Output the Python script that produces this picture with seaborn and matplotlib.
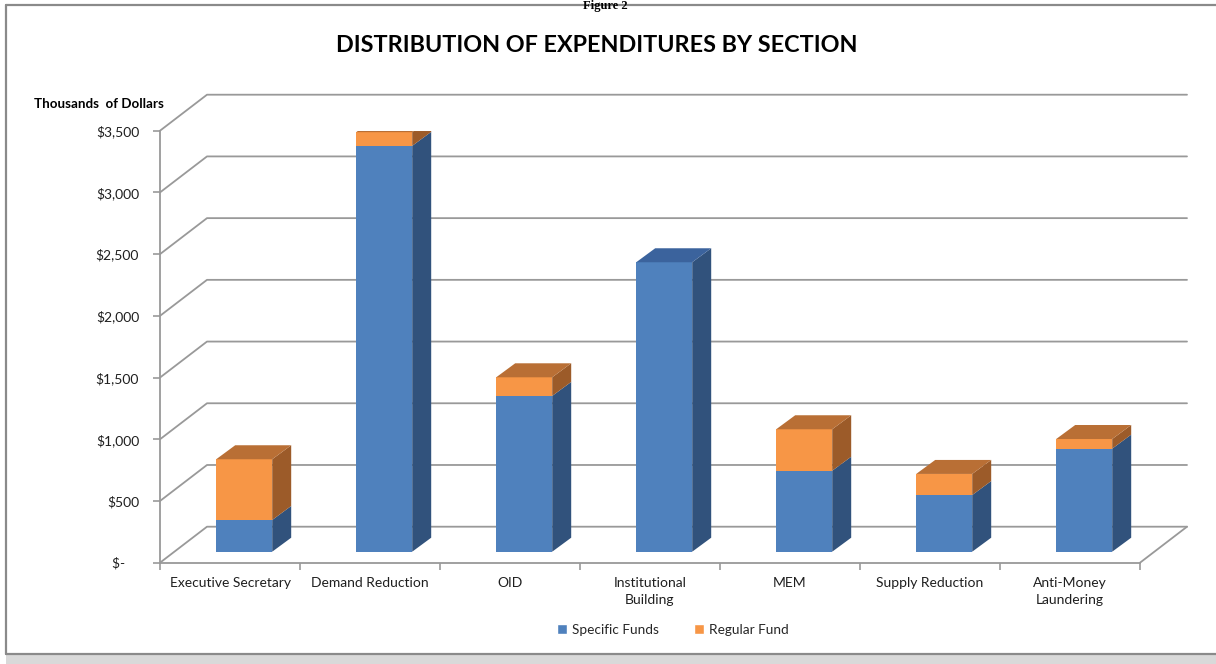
import numpy as np
import pandas as pd
import matplotlib
matplotlib.use("Agg")
import matplotlib.pyplot as plt
import seaborn as sns
from matplotlib.patches import Polygon, Rectangle, Patch
from matplotlib.lines import Line2D
from matplotlib.transforms import ScaledTranslation

# ---------------- data ----------------
categories = ["Executive Secretary", "Demand Reduction", "OID",
              "Institutional\nBuilding", "MEM", "Supply Reduction",
              "Anti-Money\nLaundering"]
specific_funds = [257, 3288, 1262, 2345, 656, 459, 835]
regular_fund = [492, 111, 151, 0, 336, 171, 78]
y_ticks = [0, 500, 1000, 1500, 2000, 2500, 3000, 3500]
y_tick_labels = ["$-    ", "$500", "$1,000", "$1,500", "$2,000",
                 "$2,500", "$3,000", "$3,500"]
series_names = ["Specific Funds", "Regular Fund"]

# ---------------- style ----------------
BLUE, BLUE_SIDE, BLUE_TOP = "#4f81bd", "#31527c", "#3b639d"
ORANGE, ORANGE_SIDE, ORANGE_TOP = "#f79646", "#9c5b29", "#b96f35"
GRID = "#999999"
TXT = "#1f1f1f"

sns.set_theme(style="white")
plt.rcParams["font.family"] = ["Lato", "DejaVu Sans"]

W, H = 1216, 664
fig = plt.figure(figsize=(W / 100, H / 100), dpi=100)
ax = fig.add_axes([160 / W, (H - 562.7) / H, 980 / W, 432 / H])

df = pd.DataFrame({"Section": categories,
                   series_names[0]: specific_funds,
                   series_names[1]: regular_fund})
df["Total"] = df[series_names[0]] + df[series_names[1]]

sns.barplot(data=df, x="Section", y="Total", color=ORANGE, saturation=1,
            width=0.4, errorbar=None, linewidth=0, ax=ax, zorder=3)
sns.barplot(data=df, x="Section", y=series_names[0], color=BLUE, saturation=1,
            width=0.4, errorbar=None, linewidth=0, ax=ax, zorder=4)

ax.set_xlim(-0.5, 6.5)
ax.set_ylim(0, 3500)

# pixel -> data conversions for the pseudo-3D geometry
PX_X = 1 / 140.0
PX_Y = 3500 / 432.0
wall_dx, wall_dy = 47 * PX_X, 36 * PX_Y
depth_dx, depth_dy = 19 * PX_X, 14 * PX_Y
shift = ax.transData + ScaledTranslation(14.2 / 100, 11 / 100, fig.dpi_scale_trans)

n = len(categories)
patches = list(ax.patches)
for p in patches:
    p.set_transform(shift)

blue_patches = patches[n:2 * n]
for i, p in enumerate(blue_patches):
    x0 = p.get_x()
    x1 = x0 + p.get_width()
    spec = df[series_names[0]].iloc[i]
    tot = df["Total"].iloc[i]
    reg = df[series_names[1]].iloc[i]
    side_b = [(x1, 0), (x1, spec), (x1 + depth_dx, spec + depth_dy), (x1 + depth_dx, depth_dy)]
    ax.add_patch(Polygon(side_b, closed=True, facecolor=BLUE_SIDE, edgecolor="none",
                         transform=shift, zorder=4))
    if reg > 0:
        side_o = [(x1, spec), (x1, tot), (x1 + depth_dx, tot + depth_dy), (x1 + depth_dx, spec + depth_dy)]
        ax.add_patch(Polygon(side_o, closed=True, facecolor=ORANGE_SIDE, edgecolor="none",
                             transform=shift, zorder=4))
    top = [(x0, tot), (x1, tot), (x1 + depth_dx, tot + depth_dy), (x0 + depth_dx, tot + depth_dy)]
    ax.add_patch(Polygon(top, closed=True, facecolor=ORANGE_TOP if reg > 0 else BLUE_TOP,
                         edgecolor="none", transform=shift, zorder=4))

# back wall gridlines and floor
for v in y_ticks:
    ax.add_line(Line2D([-0.5, -0.5 + wall_dx, 6.5 + wall_dx], [v, v + wall_dy, v + wall_dy],
                       color=GRID, lw=1.3, clip_on=False, zorder=1))
ax.add_line(Line2D([6.5, 6.5 + wall_dx], [0, wall_dy], color=GRID, lw=1.3,
                   clip_on=False, zorder=1))

# axes styling
for s in ["top", "right"]:
    ax.spines[s].set_visible(False)
for s in ["left", "bottom"]:
    ax.spines[s].set_color(GRID)
    ax.spines[s].set_linewidth(1.3)
ax.grid(False)
ax.set_facecolor("none")
ax.set_xlabel("")
ax.set_ylabel("")

ax.set_yticks(y_ticks, y_tick_labels)
ax.tick_params(axis="y", which="major", length=5, width=1.2, color=GRID,
               direction="out", pad=10, labelsize=10, labelcolor=TXT, left=True)
ax.set_xticks(range(n), categories)
ax.set_xticks(np.arange(-0.5, n, 1), minor=True)
ax.tick_params(axis="x", which="major", length=0, pad=10.5, labelsize=10, labelcolor=TXT)
ax.tick_params(axis="x", which="minor", length=5, width=1.2, color=GRID,
               direction="out", bottom=True)
for lbl in ax.get_xticklabels():
    lbl.set_linespacing(1.5)

# texts
fig.text(597 / W, (H - 45) / H, "DISTRIBUTION OF EXPENDITURES BY SECTION",
         ha="center", va="center", fontsize=16.8, fontweight="bold", color="black")
fig.text(34 / W, (H - 104) / H, "Thousands  of Dollars", ha="left", va="center",
         fontsize=9.6, fontweight="bold", color="black")
fig.text(605 / W, (H - 0.5) / H, "Figure 2", ha="center", va="top",
         fontsize=9, fontweight="bold", family=["Liberation Serif"], color="black")

# legend
handles = [Patch(facecolor=BLUE, label=series_names[0]),
           Patch(facecolor=ORANGE, label=series_names[1])]
fig.legend(handles=handles, loc="center", bbox_to_anchor=(673 / W, (H - 630) / H),
           ncol=2, frameon=False, handlelength=0.7, handleheight=0.7,
           handletextpad=0.4, columnspacing=2.6, fontsize=9.8)

# outer frame
fig.add_artist(Rectangle((6 / W, 0), 1, (H - 655) / H, transform=fig.transFigure,
                         facecolor="#d9d9d9", edgecolor="none", zorder=0))
fig.add_artist(Line2D([6 / W, 1], [(H - 5) / H] * 2, transform=fig.transFigure,
                      color="#8a8a8a", lw=1.6))
fig.add_artist(Line2D([6 / W, 1], [(H - 654) / H] * 2, transform=fig.transFigure,
                      color="#8a8a8a", lw=1.6))
fig.add_artist(Line2D([6 / W, 6 / W], [(H - 5) / H, (H - 654) / H], transform=fig.transFigure,
                      color="#8a8a8a", lw=1.6))

fig.savefig("out.png", dpi=100)
